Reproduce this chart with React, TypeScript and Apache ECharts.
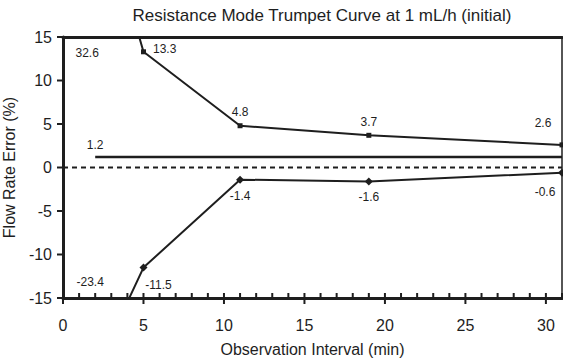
import React, { useEffect, useRef } from "react";
import * as echarts from "echarts";

const title = "Resistance Mode Trumpet Curve at 1 mL/h (initial)";
const xName = "Observation Interval (min)";
const yName = "Flow Rate Error (%)";
const intervals = [2, 5, 11, 19, 31];
const maxErr = [32.6, 13.3, 4.8, 3.7, 2.6];
const minErr = [-23.4, -11.5, -1.4, -1.6, -0.6];
const meanX = [2, 31];
const meanErr = 1.2;
const xMajorTicks = [0, 5, 10, 15, 20, 25, 30];
const xMinorTicks = [1, 2, 3, 4, 6, 7, 8, 9, 11, 12, 13, 14, 16, 17, 18, 19, 21, 22, 23, 24, 26, 27, 28, 29, 31];
const yMajorTicks = [-15, -10, -5, 0, 5, 10, 15];

const INK = "#1e1e1e";
const FONT = "Liberation Sans, Arial, sans-serif";

export default function App() {
  const ref = useRef<HTMLDivElement>(null);
  useEffect(() => {
    if (!ref.current) return;
    const chart = echarts.init(ref.current, undefined, { renderer: "svg" });

    const upperLabelCfg: any[] = [
      null,
      { position: "right", offset: [2, -3] },
      { position: "top", distance: 5 },
      { position: "top", distance: 5 },
      { position: "top", offset: [-19, -8] },
    ];
    const lowerLabelCfg: any[] = [
      null,
      { position: "bottom", offset: [15, 2] },
      { position: "bottom", distance: 6 },
      { position: "bottom", distance: 6 },
      { position: "bottom", offset: [-17, 4] },
    ];
    const lblStyle = { color: INK, fontSize: 12, fontFamily: FONT };

    const mk = (vals: number[], cfg: any[]) =>
      intervals.map((x, i) => ({
        value: [x, vals[i]],
        label: cfg[i]
          ? { show: true, ...lblStyle, ...cfg[i], formatter: String(vals[i]) }
          : { show: false },
      }));

    const yMin = yMajorTicks[0];
    const tickData: number[][] = [
      ...xMajorTicks.map((x) => [x, yMin, 0]),
      ...xMinorTicks.map((x) => [x, yMin, 1]),
      ...yMajorTicks.map((y) => [0, y, 2]),
    ];

    chart.setOption({
      animation: false,
      textStyle: { fontFamily: FONT },
      title: {
        text: title,
        left: 317,
        top: 2,
        textAlign: "center",
        textStyle: { fontSize: 17, fontWeight: "normal", color: INK, fontFamily: FONT },
      },
      grid: {
        left: 63,
        right: 1,
        top: 37,
        bottom: 62,
        outerBounds: { left: -200, right: -200, top: -200, bottom: -200 },
      },
      xAxis: [
        {
          type: "value",
          min: 0,
          max: 31,
          interval: 5,
          position: "bottom",
          name: xName,
          nameLocation: "middle",
          nameGap: 43,
          nameTextStyle: { fontSize: 16, color: INK, fontFamily: FONT },
          axisLine: { show: true, onZero: false, lineStyle: { color: INK, width: 3 } },
          axisTick: { show: false },
          axisLabel: { fontSize: 16, color: INK, margin: 19, fontFamily: FONT, showMaxLabel: false },
          splitLine: { show: false },
        },
        {
          type: "value",
          min: 0,
          max: 31,
          position: "top",
          axisLine: { show: true, onZero: false, lineStyle: { color: INK, width: 3 } },
          axisTick: { show: false },
          axisLabel: { show: false },
          splitLine: { show: false },
        },
      ],
      yAxis: [
        {
          type: "value",
          min: -15,
          max: 15,
          interval: 5,
          position: "left",
          name: yName,
          nameLocation: "middle",
          nameGap: 34,
          nameTextStyle: { fontSize: 16, color: INK, fontFamily: FONT },
          axisLine: { show: true, onZero: false, lineStyle: { color: INK, width: 3 } },
          axisTick: { show: false },
          axisLabel: { fontSize: 16, color: INK, margin: 11, fontFamily: FONT },
          splitLine: { show: false },
        },
        {
          type: "value",
          min: -15,
          max: 15,
          interval: 5,
          position: "right",
          axisLine: { show: true, onZero: false, lineStyle: { color: INK, width: 1.5 } },
          axisTick: { show: false },
          axisLabel: { show: false },
          splitLine: { show: false },
        },
      ],
      series: [
        {
          type: "custom",
          name: "ticks",
          xAxisIndex: 0,
          yAxisIndex: 0,
          silent: true,
          clip: false,
          z: 10,
          encode: { x: 0, y: 1 },
          data: tickData,
          renderItem: (params: any, api: any) => {
            const kind = api.value(2);
            const p = api.coord([api.value(0), api.value(1)]);
            let shape;
            if (kind === 0) shape = { x1: p[0], y1: p[1] - 5, x2: p[0], y2: p[1] + 6 };
            else if (kind === 1) shape = { x1: p[0], y1: p[1] - 5, x2: p[0], y2: p[1] };
            else shape = { x1: p[0] - 6, y1: p[1], x2: p[0], y2: p[1] };
            return { type: "line", shape, style: { stroke: INK, lineWidth: 2 } };
          },
        },
        {
          type: "line",
          name: "zero",
          data: [[0, 0], [31, 0]],
          symbol: "none",
          silent: true,
          lineStyle: { color: INK, width: 2, type: [5, 4] },
          z: 1,
        },
        {
          type: "line",
          name: "mean",
          data: meanX.map((x, i) => ({
            value: [x, meanErr],
            label: i === 0
              ? { show: true, position: "top", distance: 6, ...lblStyle, formatter: String(meanErr) }
              : { show: false },
          })),
          symbol: "circle",
          symbolSize: 0,
          lineStyle: { color: INK, width: 2.4 },
          itemStyle: { color: INK },
          z: 2,
        },
        {
          type: "line",
          name: "max",
          data: mk(maxErr, upperLabelCfg),
          symbol: "rect",
          symbolSize: 5,
          showAllSymbol: true,
          clip: true,
          lineStyle: { color: INK, width: 2 },
          itemStyle: { color: INK },
          z: 3,
        },
        {
          type: "line",
          name: "min",
          data: mk(minErr, lowerLabelCfg),
          symbol: "diamond",
          symbolSize: 8,
          showAllSymbol: true,
          clip: true,
          lineStyle: { color: INK, width: 2 },
          itemStyle: { color: INK },
          z: 3,
        },
      ],
    });

    const top = chart.convertToPixel({ gridIndex: 0 }, [intervals[0], 15]) as number[];
    const bot = chart.convertToPixel({ gridIndex: 0 }, [intervals[0], -15]) as number[];
    chart.setOption({
      graphic: [
        {
          type: "text",
          x: top[0] - 8,
          y: top[1] + 16,
          style: { text: String(maxErr[0]), fill: INK, font: `12px ${FONT}`, align: "center", verticalAlign: "middle" },
        },
        {
          type: "text",
          x: bot[0] - 5,
          y: bot[1] - 16,
          style: { text: String(minErr[0]), fill: INK, font: `12px ${FONT}`, align: "center", verticalAlign: "middle" },
        },
      ],
    });

    return () => chart.dispose();
  }, []);
  return <div ref={ref} style={{ width: 563, height: 360, position: "absolute", left: 0, top: 0 }} />;
}
